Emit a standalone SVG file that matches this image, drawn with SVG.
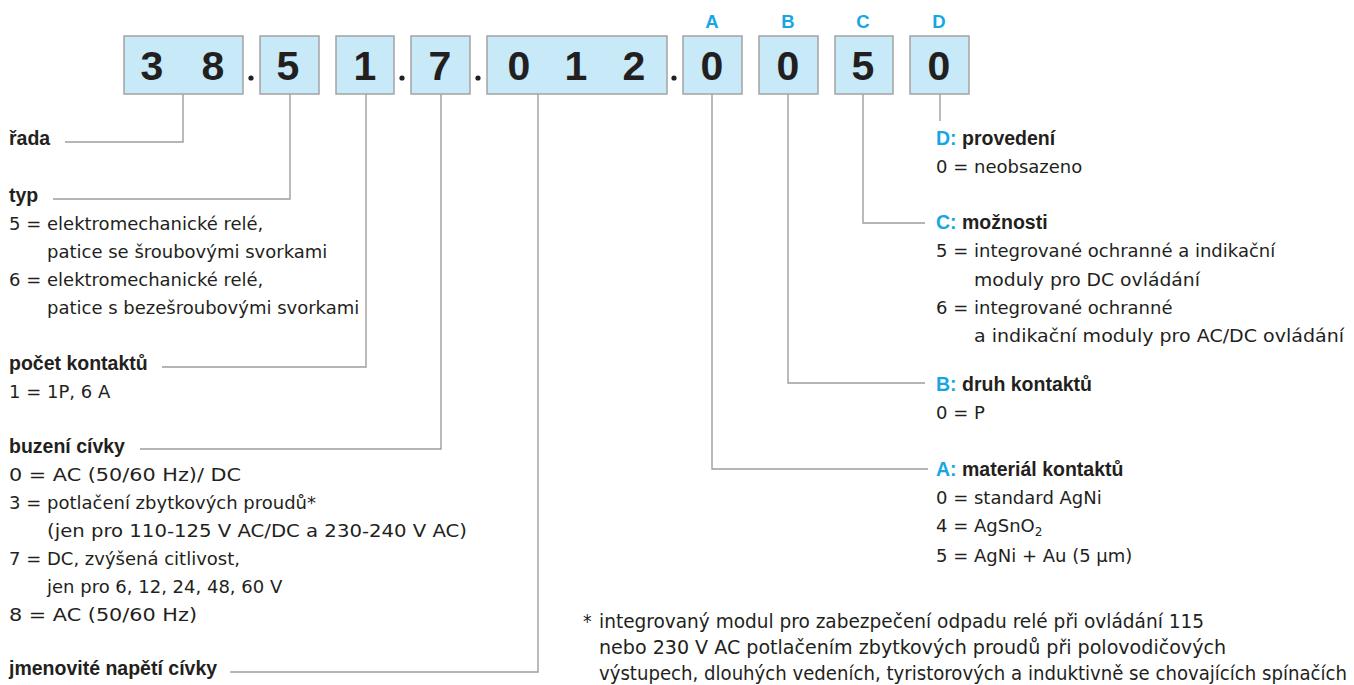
<svg xmlns="http://www.w3.org/2000/svg" width="1354" height="685" viewBox="0 0 1354 685">
<style>
.bx{fill:#c7e9f8;stroke:#a3a3a3;stroke-width:1.5}
.dg{font-family:"Liberation Sans",Arial,sans-serif;font-weight:bold;font-size:41px;fill:#231f20;text-anchor:middle}
.lb{font-family:"Liberation Sans",Arial,sans-serif;font-weight:bold;font-size:18.5px;fill:#16a6e4;text-anchor:middle}
.t{font-family:"DejaVu Sans",sans-serif;font-size:18px;fill:#231f20}
.h{font-family:"Liberation Sans",Arial,sans-serif;font-weight:bold;font-size:19.5px;fill:#231f20}
.c{fill:#16a6e4}
.fn{font-family:"DejaVu Sans Condensed","DejaVu Sans",sans-serif;font-size:19px;fill:#231f20}
.ln{fill:none;stroke:#9d9d9d;stroke-width:1.4}
.dot{fill:#231f20}
</style>
<g id="connectors">
<path class="ln" d="M183,94 V142 H65"/>
<path class="ln" d="M290,94 V199 H53"/>
<path class="ln" d="M366,94 V367 H162"/>
<path class="ln" d="M441,94 V449 H140"/>
<path class="ln" d="M538,94 V672 H230"/>
<path class="ln" d="M712,94 V469 H928"/>
<path class="ln" d="M788,94 V383 H925"/>
<path class="ln" d="M863,94 V223 H925"/>
<path class="ln" d="M940,94 V121"/>
</g>
<g id="code">
<g id="box-series"><rect class="bx" x="124" y="36" width="119" height="58"/><text class="dg" x="152" y="80">3</text><text class="dg" x="213" y="80">8</text></g>
<circle class="dot" cx="251" cy="78" r="2.6"/>
<g id="box-type"><rect class="bx" x="260" y="36" width="59" height="58"/><text class="dg" x="288" y="80">5</text></g>
<g id="box-contacts"><rect class="bx" x="336" y="36" width="58" height="58"/><text class="dg" x="365" y="80">1</text></g>
<circle class="dot" cx="402" cy="78" r="2.6"/>
<g id="box-coil"><rect class="bx" x="411" y="36" width="59" height="58"/><text class="dg" x="440" y="80">7</text></g>
<circle class="dot" cx="478" cy="78" r="2.6"/>
<g id="box-voltage"><rect class="bx" x="487" y="36" width="180" height="58"/><text class="dg" x="519" y="80">0</text><text class="dg" x="576" y="80">1</text><text class="dg" x="634" y="80">2</text></g>
<circle class="dot" cx="674" cy="78" r="2.6"/>
<g id="box-A"><text class="lb" x="712" y="28">A</text><rect class="bx" x="683" y="36" width="59" height="58"/><text class="dg" x="712" y="80">0</text></g>
<g id="box-B"><text class="lb" x="788" y="28">B</text><rect class="bx" x="759" y="36" width="59" height="58"/><text class="dg" x="788" y="80">0</text></g>
<g id="box-C"><text class="lb" x="863" y="28">C</text><rect class="bx" x="835" y="36" width="58" height="58"/><text class="dg" x="863" y="80">5</text></g>
<g id="box-D"><text class="lb" x="939" y="28">D</text><rect class="bx" x="910" y="36" width="59" height="58"/><text class="dg" x="939" y="80">0</text></g>
</g>
<g id="rada"><text class="h" x="9" y="145">řada</text></g>
<g id="typ">
<text class="h" x="9" y="202">typ</text>
<text class="t" x="9" y="230">5 = elektromechanické relé,</text>
<text class="t" x="47" y="258">patice se šroubovými svorkami</text>
<text class="t" x="9" y="286">6 = elektromechanické relé,</text>
<text class="t" x="47" y="314">patice s bezešroubovými svorkami</text>
</g>
<g id="pocet">
<text class="h" x="9" y="370">počet kontaktů</text>
<text class="t" x="9" y="398">1 = 1P, 6 A</text>
</g>
<g id="buzeni">
<text class="h" x="9" y="453">buzení cívky</text>
<text class="t" x="9" y="481" textLength="232" lengthAdjust="spacingAndGlyphs">0 = AC (50/60 Hz)/ DC</text>
<text class="t" x="9" y="509">3 = potlačení zbytkových proudů*</text>
<text class="t" x="47" y="537" textLength="420" lengthAdjust="spacingAndGlyphs">(jen pro 110-125 V AC/DC a 230-240 V AC)</text>
<text class="t" x="9" y="565">7 = DC, zvýšená citlivost,</text>
<text class="t" x="47" y="593">jen pro 6, 12, 24, 48, 60 V</text>
<text class="t" x="9" y="621" textLength="188" lengthAdjust="spacingAndGlyphs">8 = AC (50/60 Hz)</text>
</g>
<g id="jmenovite"><text class="h" x="9" y="675">jmenovité napětí cívky</text></g>
<g id="D">
<text class="h" x="936" y="145"><tspan class="c">D:</tspan> provedení</text>
<text class="t" x="936" y="173">0 = neobsazeno</text>
</g>
<g id="C">
<text class="h" x="936" y="229"><tspan class="c">C:</tspan> možnosti</text>
<text class="t" x="936" y="257">5 = integrované ochranné a indikační</text>
<text class="t" x="974" y="286" textLength="226" lengthAdjust="spacingAndGlyphs">moduly pro DC ovládání</text>
<text class="t" x="936" y="314">6 = integrované ochranné</text>
<text class="t" x="974" y="342" textLength="370" lengthAdjust="spacingAndGlyphs">a indikační moduly pro AC/DC ovládání</text>
</g>
<g id="B">
<text class="h" x="936" y="391"><tspan class="c">B:</tspan> druh kontaktů</text>
<text class="t" x="936" y="419">0 = P</text>
</g>
<g id="A">
<text class="h" x="936" y="476"><tspan class="c">A:</tspan> materiál kontaktů</text>
<text class="t" x="936" y="504">0 = standard AgNi</text>
<text class="t" x="936" y="532">4 = AgSnO<tspan font-size="12" dy="4">2</tspan></text>
<text class="t" x="936" y="562">5 = AgNi + Au (5 μm)</text>
</g>
<g id="footnote">
<text class="fn" x="583" y="628">*</text>
<text class="fn" x="599" y="628" textLength="605" lengthAdjust="spacingAndGlyphs">integrovaný modul pro zabezpečení odpadu relé při  ovládání 115</text>
<text class="fn" x="599" y="654" textLength="627" lengthAdjust="spacingAndGlyphs">nebo 230 V AC potlačením zbytkových proudů při polovodičových</text>
<text class="fn" x="599" y="680" textLength="748" lengthAdjust="spacingAndGlyphs">výstupech, dlouhých vedeních, tyristorových a induktivně se chovajících spínačích</text>
</g>
</svg>
